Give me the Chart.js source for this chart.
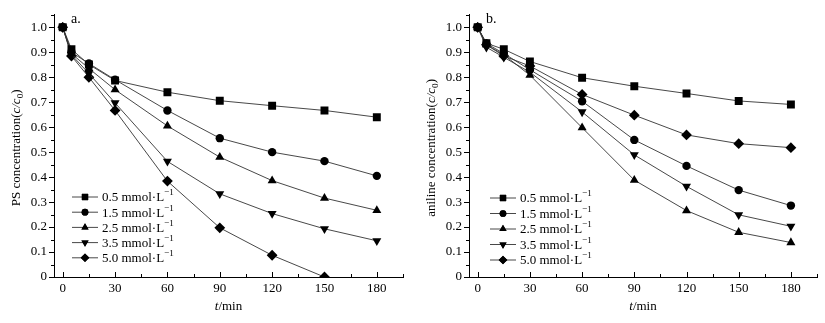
<!DOCTYPE html>
<html>
<head>
<meta charset="utf-8">
<script src="https://cdn.jsdelivr.net/npm/chart.js@4.4.0/dist/chart.umd.min.js"></script>
<style>
  html, body { margin: 0; padding: 0; background: #fff; }
  #wrap { position: relative; width: 825px; height: 323px; }
  #chartA { position: absolute; left: 0; top: 0; }
  #chartB { position: absolute; left: 412px; top: 0; }
</style>
</head>
<body>
<div id="wrap">
  <canvas id="chartA" width="412" height="323"></canvas>
  <canvas id="chartB" width="413" height="323"></canvas>
</div>
<script>
// sampling times (min)
const times = [0, 5, 15, 30, 60, 90, 120, 150, 180];
const doses = ["0.5", "1.5", "2.5", "3.5", "5.0"];

// a. PS concentration c/c0
const psDose05 = [1.0, 0.912, 0.851, 0.787, 0.740, 0.706, 0.686, 0.667, 0.640];
const psDose15 = [1.0, 0.900, 0.855, 0.790, 0.667, 0.556, 0.500, 0.464, 0.405];
const psDose25 = [1.0, 0.895, 0.835, 0.750, 0.605, 0.480, 0.386, 0.316, 0.267];
const psDose35 = [1.0, 0.890, 0.815, 0.697, 0.463, 0.333, 0.254, 0.193, 0.145];
const psDose50 = [1.0, 0.885, 0.800, 0.667, 0.384, 0.197, 0.087, 0.0];

// b. aniline concentration c/c0
const anDose05 = [1.0, 0.936, 0.912, 0.863, 0.798, 0.764, 0.735, 0.705, 0.691];
const anDose15 = [1.0, 0.935, 0.895, 0.830, 0.704, 0.549, 0.445, 0.348, 0.286];
const anDose25 = [1.0, 0.930, 0.890, 0.808, 0.598, 0.388, 0.266, 0.179, 0.138];
const anDose35 = [1.0, 0.920, 0.880, 0.820, 0.661, 0.489, 0.363, 0.249, 0.203];
const anDose50 = [1.0, 0.930, 0.885, 0.845, 0.731, 0.648, 0.569, 0.534, 0.518];

// tick values
const xTicks = [0, 30, 60, 90, 120, 150, 180];
const xMinor = [15, 45, 75, 105, 135, 165, 195];
const yTicks = [0, 0.1, 0.2, 0.3, 0.4, 0.5, 0.6, 0.7, 0.8, 0.9, 1.0];
const yMinor = [0.05, 0.15, 0.25, 0.35, 0.45, 0.55, 0.65, 0.75, 0.85, 0.95, 1.05];

const FONT = "'Liberation Serif', 'Times New Roman', serif";
const markers = [
  { pointStyle: "rect", radius: 5.6, rotation: 0 },
  { pointStyle: "circle", radius: 4.2, rotation: 0 },
  { pointStyle: "triangle", radius: 5.2, rotation: 0 },
  { pointStyle: "triangle", radius: 5.2, rotation: 180 },
  { pointStyle: "rectRot", radius: 5.4, rotation: 0 }
];

function makeSets(series) {
  return series.map((vals, i) => ({
    label: doses[i] + " mmol·L",
    data: vals.map((v, k) => ({ x: times[k], y: v })),
    borderColor: "#333",
    borderWidth: 0.9,
    backgroundColor: "#000",
    pointBackgroundColor: "#000",
    pointBorderColor: "#000",
    pointBorderWidth: 0,
    pointStyle: markers[i].pointStyle,
    pointRadius: markers[i].radius,
    pointRotation: markers[i].rotation,
    tension: 0
  }));
}

// draws mixed-style text: [{t, italic, sub, sup}]
function richWidth(ctx, parts, size) {
  let w = 0;
  parts.forEach(p => {
    const s = (p.sub || p.sup) ? size * 0.7 : size;
    ctx.font = (p.italic ? "italic " : "") + s + "px " + FONT;
    w += ctx.measureText(p.t).width;
  });
  return w;
}
function drawRich(ctx, parts, x, y, size) {
  let cx = x;
  parts.forEach(p => {
    const s = (p.sub || p.sup) ? size * 0.7 : size;
    ctx.font = (p.italic ? "italic " : "") + s + "px " + FONT;
    const dy = p.sub ? size * 0.25 : (p.sup ? -size * 0.38 : 0);
    ctx.fillText(p.t, cx, y + dy);
    cx += ctx.measureText(p.t).width;
  });
}

const decoPlugin = {
  id: "deco",
  afterDraw(chart, args, opts) {
    const ctx = chart.ctx;
    const area = chart.chartArea;
    const xs = chart.scales.x, ys = chart.scales.y;
    ctx.save();
    ctx.strokeStyle = "#000";
    ctx.lineWidth = 1;
    ctx.beginPath();
    yTicks.forEach(v => {
      const p = Math.round(ys.getPixelForValue(v)) + 0.5;
      ctx.moveTo(area.left - 5, p); ctx.lineTo(area.left, p);
    });
    yMinor.forEach(v => {
      const p = Math.round(ys.getPixelForValue(v)) + 0.5;
      ctx.moveTo(area.left - 3, p); ctx.lineTo(area.left, p);
    });
    xTicks.forEach(v => {
      const p = Math.round(xs.getPixelForValue(v)) + 0.5;
      ctx.moveTo(p, area.bottom); ctx.lineTo(p, area.bottom - 5);
    });
    xMinor.forEach(v => {
      const p = Math.round(xs.getPixelForValue(v)) + 0.5;
      ctx.moveTo(p, area.bottom); ctx.lineTo(p, area.bottom - 3);
    });
    ctx.stroke();

    ctx.fillStyle = "#000";
    ctx.textBaseline = "middle";
    ctx.textAlign = "left";

    // panel tag
    ctx.font = "14px " + FONT;
    ctx.fillText(opts.tag, area.left + 17, area.top + 5);

    // x title
    const xt = [{ t: "t", italic: true }, { t: "/min" }];
    const xw = richWidth(ctx, xt, 13);
    drawRich(ctx, xt, (area.left + area.right) / 2 - xw / 2, area.bottom + 30, 13);

    // y title
    const yt = [{ t: opts.yName + " concentration(" }, { t: "c/c", italic: true }, { t: "0", sub: true }, { t: ")" }];
    const yw = richWidth(ctx, yt, 13);
    ctx.save();
    ctx.translate(area.left - 37, (area.top + area.bottom) / 2 + 2);
    ctx.rotate(-Math.PI / 2);
    drawRich(ctx, yt, -yw / 2, 0, 13);
    ctx.restore();

    // legend
    chart.data.datasets.forEach((ds, i) => {
      const y = opts.legendY + i * opts.legendGap;
      const x0 = area.left + opts.legendX;
      ctx.strokeStyle = "#333";
      ctx.lineWidth = 0.9;
      ctx.beginPath();
      ctx.moveTo(x0, y); ctx.lineTo(x0 + 26, y);
      ctx.stroke();
      ctx.fillStyle = "#000";
      Chart.helpers.drawPoint(ctx, {
        pointStyle: markers[i].pointStyle,
        radius: markers[i].radius * 0.8,
        rotation: markers[i].rotation,
        borderWidth: 0
      }, x0 + 13, y);
      ctx.fill();
      drawRich(ctx, [{ t: doses[i] + " mmol·L" }, { t: "−1", sup: true }], x0 + 30, y + 1, 13);
    });
    ctx.restore();
  }
};

function makeChart(id, series, cfg) {
  return new Chart(document.getElementById(id), {
    type: "line",
    data: { datasets: makeSets(series) },
    plugins: [decoPlugin],
    options: {
      responsive: false,
      animation: false,
      layout: { padding: { left: 0, top: cfg.top, right: cfg.right, bottom: 0 } },
      plugins: {
        legend: { display: false },
        tooltip: { enabled: false },
        deco: cfg.deco
      },
      scales: {
        x: {
          type: "linear",
          min: -5, max: 195,
          afterBuildTicks: s => { s.ticks = xTicks.map(v => ({ value: v })); },
          afterFit: s => { s.height = 46; },
          grid: { display: false, drawTicks: false },
          border: { display: true, color: "#000", width: 1 },
          ticks: {
            padding: 4,
            maxRotation: 0,
            color: "#000",
            font: { family: FONT, size: 13 }
          }
        },
        y: {
          type: "linear",
          min: 0, max: 1.05,
          afterBuildTicks: s => { s.ticks = yTicks.map(v => ({ value: v })); },
          afterFit: s => { s.width = cfg.yWidth; },
          grid: { display: false, drawTicks: false },
          border: { display: true, color: "#000", width: 1 },
          ticks: {
            padding: 7,
            color: "#000",
            font: { family: FONT, size: 13 },
            callback: v => v === 0 ? "0" : v.toFixed(1)
          }
        }
      }
    }
  });
}

makeChart("chartA", [psDose05, psDose15, psDose25, psDose35, psDose50], {
  top: 10.5, right: 9, yWidth: 54,
  deco: { tag: "a.", yName: "PS", legendX: 18, legendY: 197, legendGap: 15.2 }
});
makeChart("chartB", [anDose05, anDose15, anDose25, anDose35, anDose50], {
  top: 13, right: 8, yWidth: 57,
  deco: { tag: "b.", yName: "aniline", legendX: 21, legendY: 198, legendGap: 15.5 }
});
</script>
</body>
</html>
